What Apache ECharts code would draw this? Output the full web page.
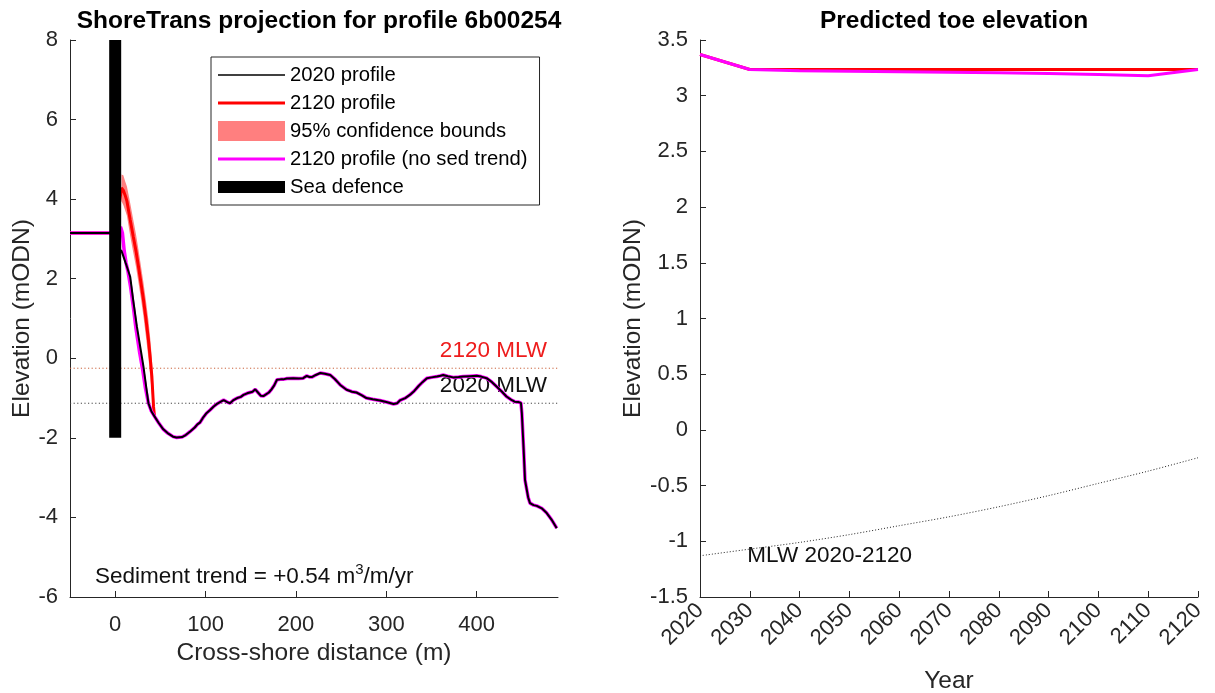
<!DOCTYPE html>
<html>
<head>
<meta charset="utf-8">
<script src="https://cdn.jsdelivr.net/npm/echarts@6/dist/echarts.min.js"></script>
<style>
  html, body { margin: 0; padding: 0; background: #fff; }
  #chart { width: 1215px; height: 693px; }
</style>
</head>
<body>
<div id="chart"></div>
<script>
// ---------- Profile data (cross-shore distance m, elevation mODN) ----------
// Seaward part of the profile, common to all three profiles
const offshoreProfile = [
  [48,-1.62],[53,-1.78],[58,-1.88],[64,-1.97],[68,-1.99],[74,-1.98],[78,-1.93],[83,-1.84],
  [88,-1.74],[91,-1.66],[94,-1.61],[97,-1.5],[101,-1.38],[105,-1.3],[109,-1.21],[113,-1.14],
  [116,-1.1],[120,-1.05],[124,-1.1],[127,-1.13],[131,-1.05],[135,-1.0],[139,-0.97],[142,-0.92],
  [146,-0.88],[149,-0.86],[152,-0.84],[155,-0.78],[158,-0.86],[161,-0.94],[164,-0.95],[166,-0.92],
  [170,-0.86],[173,-0.78],[176,-0.68],[179,-0.54],[183,-0.53],[186,-0.53],[190,-0.51],[197,-0.5],
  [203,-0.51],[208,-0.5],[212,-0.44],[215,-0.47],[218,-0.47],[222,-0.42],[227,-0.37],[232,-0.39],
  [238,-0.42],[243,-0.52],[249,-0.67],[256,-0.79],[262,-0.84],[267,-0.86],[273,-0.93],[278,-1.0],
  [285,-1.03],[293,-1.06],[300,-1.1],[308,-1.15],[312,-1.13],[315,-1.06],[321,-1.0],[326,-0.92],
  [331,-0.82],[336,-0.69],[340,-0.6],[345,-0.5],[350,-0.48],[356,-0.46],[360,-0.44],[363,-0.42],
  [368,-0.45],[374,-0.48],[380,-0.47],[385,-0.46],[392,-0.45],[400,-0.44],[405,-0.46],[411,-0.5],
  [417,-0.6],[422,-0.71],[428,-0.84],[433,-0.96],[438,-1.04],[442,-1.09],[446,-1.1],[449,-1.12],
  [450,-1.38],[452,-2.3],[453.5,-3.06],[455.5,-3.31],[457,-3.5],[459,-3.64],[463,-3.69],[466.5,-3.71],
  [472,-3.77],[477.5,-3.89],[483,-4.06],[488.6,-4.27]
];
// 2020 profile, landward and upper beach
const profile2020Near = [
  [-50,3.15],[0,3.15],[1,2.78],[7,2.7],[10,2.5],[13,2.3],[16.6,2.05],[20,1.45],[24,0.8],
  [28,0.25],[31.3,-0.21],[34.5,-0.75],[36.8,-1.13],[40,-1.33],[43.5,-1.46]
];
// 2120 profile without sediment trend, landward and upper beach
const profileNoTrendNear = [
  [-50,3.15],[0,3.15],[6,3.3],[8,3.15],[10,2.7],[12,2.4],[14,2.2],[17,1.8],[20,1.3],[23,0.75],
  [27,0.15],[30.5,-0.3],[33.5,-0.75],[36.8,-1.13],[40,-1.33],[43.5,-1.46]
];
// 2120 profile with sediment trend
const profile2120 = [
  [-50,3.15],[0,3.15],[7,4.28],[9,4.22],[11,4.1],[13,3.95],[16.6,3.48],[20,3.06],[23,2.7],
  [25.8,2.3],[28.5,1.9],[31.3,1.47],[34,1.0],[36.8,0.46],[38.8,0.0],[40.6,-0.46],[42.4,-1.21],[43.5,-1.46]
];
// 95% confidence bounds of the 2120 profile
const bound2120Upper = [
  [7,4.62],[9,4.6],[11,4.45],[13,4.32],[16.6,3.9],[20,3.48],[23,3.12],[25.8,2.72],[28.5,2.32],
  [31.3,1.9],[34,1.45],[36.8,0.95],[38.8,0.5],[40.6,0.0],[42.4,-0.8],[44.5,-1.5]
];
const bound2120Lower = [
  [7,3.95],[9,3.85],[11,3.72],[13,3.58],[16.6,3.08],[20,2.66],[23,2.3],[25.8,1.9],[28.5,1.5],
  [31.3,1.05],[34,0.55],[36.8,0.0],[38.8,-0.45],[40.6,-0.9],[42.4,-1.45],[43.5,-1.5]
];
// Sea defence position and vertical extent
const seaDefence = [[0,-2],[0,8]];
const profileTicks = [0, 100, 200, 300, 400];

// ---------- Toe elevation through time ----------
const years = [2020, 2030, 2040, 2050, 2060, 2070, 2080, 2090, 2100, 2110, 2120];
const toeTrend   = [3.37, 3.235, 3.235, 3.235, 3.235, 3.235, 3.235, 3.235, 3.235, 3.235, 3.235];
const toeNoTrend = [3.37, 3.235, 3.225, 3.22, 3.215, 3.21, 3.205, 3.2, 3.19, 3.18, 3.235];
const mlw        = [-1.13, -1.07, -1.01, -0.94, -0.86, -0.78, -0.69, -0.59, -0.48, -0.37, -0.25];

// ---------- Derived series ----------
const profile2020 = profile2020Near.concat(offshoreProfile);
const profileNoTrend = profileNoTrendNear.concat(offshoreProfile);
const bandPolygon = bound2120Upper.concat(bound2120Lower.slice().reverse());
const xMin = -50, xMax = 490;
const mlw2020 = mlw[0], mlw2120 = mlw[mlw.length - 1];
const pairs = (xs, ys) => xs.map((x, i) => [x, ys[i]]);

const FONT = '"Liberation Sans", Arial, sans-serif';
const AX = '#262626';
const RED = '#ff0000';
const MAGENTA = '#ff00ff';
const BAND = 'rgba(255,0,0,0.5)';

// Legend sample: a horizontal bar of the given thickness
const barIcon = h => 'path://M0,0H67V' + h + 'H0Z';

function axisStyle() {
  return {
    axisLine: { show: true, onZero: false, lineStyle: { color: AX, width: 1 } },
    axisTick: { show: true, inside: true, length: 6, lineStyle: { color: AX } },
    splitLine: { show: false },
    axisLabel: { color: AX, fontFamily: FONT, fontSize: 22 },
    nameTextStyle: { color: AX, fontFamily: FONT, fontSize: 24.5 },
    nameLocation: 'middle'
  };
}

const chart = echarts.init(document.getElementById('chart'), null, { renderer: 'canvas' });

const option = {
  animation: false,
  backgroundColor: '#fff',
  textStyle: { fontFamily: FONT },
  title: [
    { text: 'ShoreTrans projection for profile 6b00254', left: 314, top: 4, textAlign: 'center',
      textStyle: { fontFamily: FONT, fontWeight: 'bold', fontSize: 24.5, color: '#000' } },
    { text: 'Predicted toe elevation', left: 949, top: 4, textAlign: 'center',
      textStyle: { fontFamily: FONT, fontWeight: 'bold', fontSize: 24.5, color: '#000' } }
  ],
  grid: [
    { left: 70, top: 40, width: 488, height: 557, outerBoundsMode: 'none', containLabel: false },
    { left: 700, top: 40, width: 498, height: 557, outerBoundsMode: 'none', containLabel: false }
  ],
  xAxis: [
    Object.assign(axisStyle(), {
      gridIndex: 0, type: 'value', min: xMin, max: xMax,
      name: 'Cross-shore distance (m)', nameGap: 44,
      axisTick: { show: true, inside: true, length: 6, lineStyle: { color: AX }, customValues: profileTicks },
      axisLabel: { color: AX, fontFamily: FONT, fontSize: 22, margin: 17, customValues: profileTicks }
    }),
    Object.assign(axisStyle(), {
      gridIndex: 1, type: 'value', min: years[0], max: years[years.length - 1], interval: 10,
      name: 'Year', nameGap: 72,
      axisLabel: { color: AX, fontFamily: FONT, fontSize: 22, rotate: 45, margin: 10,
                   formatter: v => String(v) }
    })
  ],
  yAxis: [
    Object.assign(axisStyle(), {
      gridIndex: 0, type: 'value', min: -6, max: 8, interval: 2,
      name: 'Elevation (mODN)', nameGap: 34,
      axisLabel: { color: AX, fontFamily: FONT, fontSize: 22, margin: 12 }
    }),
    Object.assign(axisStyle(), {
      gridIndex: 1, type: 'value', min: -1.5, max: 3.5, interval: 0.5,
      name: 'Elevation (mODN)', nameGap: 36,
      axisLabel: { color: AX, fontFamily: FONT, fontSize: 22, margin: 12 }
    })
  ],
  legend: {
    left: 211, top: 57, orient: 'vertical',
    padding: [8, 12, 8, 7], itemGap: 8, itemWidth: 67, itemHeight: 20,
    borderColor: AX, borderWidth: 1, backgroundColor: '#fff',
    selectedMode: false, symbolKeepAspect: true,
    textStyle: { fontFamily: FONT, fontSize: 20.25, color: '#000' },
    data: [
      { name: '2020 profile', icon: barIcon(1.5), itemStyle: { color: '#000' } },
      { name: '2120 profile', icon: barIcon(3), itemStyle: { color: RED } },
      { name: '95% confidence bounds', icon: 'rect', itemStyle: { color: BAND } },
      { name: '2120 profile (no sed trend)', icon: barIcon(3), itemStyle: { color: MAGENTA } },
      { name: 'Sea defence', icon: barIcon(12), itemStyle: { color: '#000' } }
    ]
  },
  series: [
    // profile chart
    {
      name: '95% confidence bounds', type: 'custom', xAxisIndex: 0, yAxisIndex: 0,
      data: bandPolygon, encode: { x: 0, y: 1 }, z: 2,
      itemStyle: { color: BAND },
      renderItem: function (params, api) {
        if (params.dataIndex !== 0) return null;
        const pts = bandPolygon.map(p => api.coord(p));
        return { type: 'polygon', shape: { points: pts }, style: { fill: BAND } };
      }
    },
    {
      name: '2120 profile', type: 'line', xAxisIndex: 0, yAxisIndex: 0, data: profile2120,
      showSymbol: false, symbol: 'none', z: 3,
      lineStyle: { color: RED, width: 3 }, itemStyle: { color: RED }
    },
    {
      name: '2120 profile (no sed trend)', type: 'line', xAxisIndex: 0, yAxisIndex: 0, data: profileNoTrend,
      showSymbol: false, symbol: 'none', z: 4,
      lineStyle: { color: MAGENTA, width: 3.5 }, itemStyle: { color: MAGENTA }
    },
    {
      name: '2020 profile', type: 'line', xAxisIndex: 0, yAxisIndex: 0, data: profile2020,
      showSymbol: false, symbol: 'none', z: 5,
      lineStyle: { color: '#000', width: 2 }, itemStyle: { color: '#000' }
    },
    {
      name: 'MLW 2120 line', type: 'line', xAxisIndex: 0, yAxisIndex: 0,
      data: [[xMin, mlw2120], [xMax, mlw2120]], showSymbol: false, symbol: 'none', z: 1,
      lineStyle: { color: '#c9603a', width: 1, type: [1.2, 2.4] }
    },
    {
      name: 'MLW 2020 line', type: 'line', xAxisIndex: 0, yAxisIndex: 0,
      data: [[xMin, mlw2020], [xMax, mlw2020]], showSymbol: false, symbol: 'none', z: 1,
      lineStyle: { color: '#444', width: 1, type: [1.2, 2.4] }
    },
    {
      name: 'Sea defence', type: 'line', xAxisIndex: 0, yAxisIndex: 0, data: seaDefence,
      showSymbol: false, symbol: 'none', z: 10,
      lineStyle: { color: '#000', width: 12, cap: 'butt' }, itemStyle: { color: '#000' }
    },
    // toe elevation chart
    {
      name: 'Toe 2120 profile', type: 'line', xAxisIndex: 1, yAxisIndex: 1, data: pairs(years, toeTrend),
      showSymbol: false, symbol: 'none', z: 3, lineStyle: { color: RED, width: 3 }
    },
    {
      name: 'Toe 2120 profile (no sed trend)', type: 'line', xAxisIndex: 1, yAxisIndex: 1,
      data: pairs(years, toeNoTrend),
      showSymbol: false, symbol: 'none', z: 4, lineStyle: { color: MAGENTA, width: 3 }
    },
    {
      name: 'MLW 2020-2120', type: 'line', xAxisIndex: 1, yAxisIndex: 1, data: pairs(years, mlw),
      showSymbol: false, symbol: 'none', smooth: 0.3, z: 2,
      lineStyle: { color: '#222', width: 1, type: [1, 2] }
    }
  ]
};
chart.setOption(option);

// Annotations placed in data coordinates
function px(gridIdx, pt) {
  return chart.convertToPixel({ xAxisIndex: gridIdx, yAxisIndex: gridIdx }, pt);
}
const p2120 = px(0, [xMax, mlw2120]);
const p2020 = px(0, [xMax, mlw2020]);
const pSed = px(0, [xMin, -6]);
const pMlw = px(1, [2029.5, mlw[0]]);
chart.setOption({
  graphic: [
    { type: 'text', x: p2120[0] - 11, y: p2120[1] - 17,
      style: { text: '2120 MLW', fill: '#ee1c1c', font: '22.5px ' + FONT, align: 'right', verticalAlign: 'middle' } },
    { type: 'text', x: p2020[0] - 11, y: p2020[1] - 17,
      style: { text: '2020 MLW', fill: '#111', font: '22.5px ' + FONT, align: 'right', verticalAlign: 'middle' } },
    { type: 'text', x: pSed[0] + 25, y: pSed[1] - 22,
      style: {
        text: '{b|Sediment trend = +0.54 m}{s|3}{b|/m/yr}',
        fill: '#111', align: 'left', verticalAlign: 'middle',
        rich: {
          b: { fontFamily: FONT, fontSize: 22.5, fill: '#111', color: '#111', verticalAlign: 'bottom' },
          s: { fontFamily: FONT, fontSize: 15, fill: '#111', color: '#111', padding: [0, 0, 11, 0], verticalAlign: 'bottom' }
        }
      } },
    { type: 'text', x: pMlw[0], y: pMlw[1],
      style: { text: 'MLW 2020-2120', fill: '#111', font: '22.5px ' + FONT, align: 'left', verticalAlign: 'middle' } }
  ]
});
</script>
</body>
</html>
